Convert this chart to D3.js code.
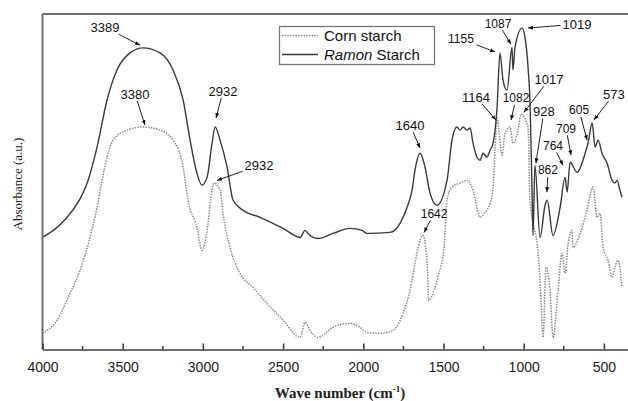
<!DOCTYPE html>
<html>
<head>
<meta charset="utf-8">
<script src="https://cdn.jsdelivr.net/npm/d3@7"></script>
<style>
  body { margin: 0; background: #fff; }
  svg { display: block; }
</style>
</head>
<body>
<script>
// FTIR spectra, wave number (cm-1) vs absorbance (a.u., arbitrary 0-100)
const ramonStarch = [
  [4000, 33.4], [3847, 39.4], [3748, 46.6], [3716, 50.4], [3660, 60.3], [3598, 74.3],
  [3536, 83.3], [3454, 88.4], [3373, 89.9], [3267, 88.4], [3186, 83.3], [3123, 74.3],
  [3080, 62.4], [3037, 52.5], [3006, 49.0], [2974, 51.3], [2943, 61.5], [2924, 66.3],
  [2893, 62.4], [2849, 54.3], [2812, 44.5], [2750, 41.5], [2644, 39.4], [2500, 36.1],
  [2394, 33.4], [2363, 35.5], [2345, 34.6], [2313, 33.4], [2282, 33.1], [2189, 34.6],
  [2083, 36.1], [2008, 35.5], [1977, 34.6], [1834, 34.9], [1771, 37.6], [1727, 42.4],
  [1696, 47.5], [1678, 53.4], [1646, 58.5], [1615, 54.3], [1584, 46.6], [1541, 43.0],
  [1478, 50.4], [1447, 62.4], [1416, 66.3], [1397, 65.4], [1378, 66.3], [1353, 65.4],
  [1334, 66.0], [1316, 61.5], [1291, 57.3], [1272, 56.4], [1254, 58.5], [1229, 57.3],
  [1210, 59.4], [1191, 61.5], [1166, 72.2], [1148, 88.4], [1129, 80.3], [1104, 77.3],
  [1073, 90.1], [1067, 83.3], [1054, 90.1], [1010, 95.8], [992, 93.1], [973, 84.2],
  [961, 74.3], [948, 47.5], [942, 34.0], [930, 54.9], [898, 33.4], [867, 43.0],
  [854, 44.5], [817, 34.0], [773, 42.4], [742, 51.3], [729, 46.9], [711, 55.8],
  [667, 52.8], [617, 58.5], [599, 61.5], [573, 67.5], [555, 60.3], [536, 62.4],
  [512, 58.5], [480, 55.5], [449, 50.4], [431, 49.6], [418, 50.4], [400, 47.5], [387, 45.4]
]

const cornStarch = [
  [4000, 4.8], [3910, 8.7], [3829, 16.7], [3766, 23.6], [3704, 33.4], [3660, 42.4],
  [3629, 50.4], [3598, 57.3], [3560, 62.4], [3473, 65.4], [3373, 66.3], [3267, 65.4],
  [3186, 62.4], [3123, 54.3], [3093, 44.5], [3037, 36.4], [3006, 29.6], [2974, 35.5],
  [2943, 47.5], [2931, 49.6], [2893, 47.5], [2875, 40.6], [2831, 30.4], [2769, 22.7],
  [2688, 18.5], [2600, 13.7], [2500, 8.7], [2394, 3.6], [2363, 8.1], [2332, 5.7],
  [2282, 3.6], [2189, 6.6], [2083, 7.8], [2021, 6.6], [1977, 5.1], [1896, 4.8],
  [1815, 5.7], [1753, 10.7], [1709, 17.6], [1678, 25.7], [1646, 32.5], [1628, 34.0],
  [1603, 26.6], [1591, 14.6], [1560, 17.6], [1528, 22.7], [1497, 30.4], [1478, 44.5],
  [1453, 48.1], [1397, 49.6], [1353, 50.4], [1316, 47.5], [1272, 39.4], [1241, 40.9],
  [1210, 43.6], [1191, 48.4], [1179, 59.4], [1166, 69.0], [1135, 57.9], [1116, 64.5],
  [1085, 66.3], [1067, 61.5], [1035, 65.4], [1017, 70.1], [973, 66.3], [961, 44.5],
  [942, 37.9], [917, 31.6], [898, 20.6], [879, 3.6], [861, 24.5], [836, 17.6],
  [817, 3.6], [786, 17.6], [761, 28.7], [742, 22.7], [723, 31.6], [699, 35.5],
  [692, 30.4], [649, 34.6], [605, 41.5], [568, 48.4], [543, 39.4], [524, 40.6],
  [505, 30.4], [474, 26.6], [449, 21.5], [431, 24.5], [412, 26.6], [387, 18.5]
]

const seriesNames = ["Corn starch", "Ramon Starch"]
const xTicks = [4000, 3500, 3000, 2500, 2000, 1500, 1000, 500]
const xMinorTicks = [3750, 3250, 2750, 2250, 1750, 1250, 750]

// peak labels: text, arrow tip (wave number, absorbance)
const peakLabels = ["3389", "3380", "2932", "2932", "1640", "1642", "1155", "1087", "1019",
  "1017", "1164", "1082", "928", "605", "573", "709", "764", "862"]
const peakTips = [
  [3392, 90.7], [3361, 66.9], [2918, 69.0], [2912, 50.4], [1646, 60.0], [1621, 34.9],
  [1179, 88.7], [1079, 91.0], [973, 95.8], [998, 70.7], [1173, 68.4], [1079, 68.4],
  [924, 55.5], [605, 62.4], [562, 68.4], [705, 57.9], [755, 54.9], [855, 46.9]
]
// label offsets from tip in pixels, and font size
const labelOffsets = [
  [-35, -18, 13], [-10, -31, 13], [7, -27, 13], [42, -15, 13], [-10, -23, 13], [10, -19, 12],
  [-34, -13, 12], [-13, -21, 12], [49, -4, 13], [25, -33, 13], [-20, -23, 13], [5, -22, 12],
  [8, -52, 13], [-8, -30, 12], [20, -26, 13], [-5, -27, 12], [-10, -20, 12], [1, -22, 12]
]

const W = 628, H = 401
const plotLeft = 42.5, plotTop = 14, plotBottom = 349.5

const svg = d3.select("body").append("svg")
  .attr("width", W)
  .attr("height", H)

const x = d3.scaleLinear().domain([4000, 350]).range([plotLeft, plotLeft + 3650 * 0.1604])
const y = d3.scaleLinear().domain([0, 100]).range([plotBottom, plotTop])

svg.append("defs").append("marker")
  .attr("id", "arrow")
  .attr("viewBox", "0 0 10 10")
  .attr("refX", 10).attr("refY", 5)
  .attr("markerWidth", 5).attr("markerHeight", 5)
  .attr("orient", "auto")
  .append("path")
    .attr("d", "M0,1 L10,5 L0,9 Z")
    .attr("fill", "#111")

const line = d3.line()
  .x(d => x(d[0]))
  .y(d => y(d[1]))
  .curve(d3.curveMonotoneX)

svg.append("path")
  .datum(cornStarch)
  .attr("d", line)
  .attr("fill", "none")
  .attr("stroke", "#8a8a8a")
  .attr("stroke-width", 1.5)
  .attr("stroke-dasharray", "1.5,1.2")

svg.append("path")
  .datum(ramonStarch)
  .attr("d", line)
  .attr("fill", "none")
  .attr("stroke", "#3a3a3a")
  .attr("stroke-width", 1.4)

// frame
const frameColor = "#6e6e6e"
svg.append("line")
  .attr("x1", plotLeft).attr("x2", W).attr("y1", plotTop).attr("y2", plotTop)
  .attr("stroke", frameColor).attr("stroke-width", 2.2)
svg.append("line")
  .attr("x1", plotLeft).attr("x2", plotLeft).attr("y1", plotTop).attr("y2", plotBottom)
  .attr("stroke", frameColor).attr("stroke-width", 2)

// x axis
const xAxis = svg.append("g")
  .attr("transform", `translate(0,${plotBottom})`)
  .call(d3.axisBottom(x).tickValues(xTicks).tickFormat(d3.format("d"))
    .tickSizeInner(-6).tickSizeOuter(0).tickPadding(13))
xAxis.select(".domain").attr("stroke", frameColor).attr("stroke-width", 2)
xAxis.selectAll(".tick line").attr("stroke", "#333").attr("stroke-width", 1.5)
xAxis.selectAll(".tick text")
  .attr("font-family", "Liberation Sans, Arial, sans-serif")
  .attr("font-size", 14)
  .attr("fill", "#222")

svg.append("g")
  .attr("transform", `translate(0,${plotBottom})`)
  .selectAll("line")
  .data(xMinorTicks)
  .enter()
    .append("line")
    .attr("x1", d => x(d)).attr("x2", d => x(d))
    .attr("y1", 0).attr("y2", -3.5)
    .attr("stroke", "#333").attr("stroke-width", 1.5)

// axis titles
const xTitle = svg.append("text")
  .attr("x", 340).attr("y", 398)
  .attr("text-anchor", "middle")
  .attr("font-family", "Liberation Serif, Times New Roman, serif")
  .attr("font-size", 15)
  .attr("font-weight", "bold")
  .attr("fill", "#222")
xTitle.append("tspan").text("Wave number (cm")
xTitle.append("tspan").attr("dy", -6).attr("font-size", 9).text("-1")
xTitle.append("tspan").attr("dy", 6).text(")")

svg.append("text")
  .attr("transform", "translate(22,184) rotate(-90)")
  .attr("text-anchor", "middle")
  .attr("font-family", "Liberation Serif, Times New Roman, serif")
  .attr("font-size", 13)
  .attr("fill", "#222")
  .text("Absorbance (a.u.)")

// legend
const legend = svg.append("g")
legend.append("rect")
  .attr("x", 279.5).attr("y", 26.5).attr("width", 155).attr("height", 38)
  .attr("fill", "#fff").attr("stroke", "#777").attr("stroke-width", 1.3)
legend.append("line")
  .attr("x1", 282).attr("x2", 318).attr("y1", 35.5).attr("y2", 35.5)
  .attr("stroke", "#8a8a8a").attr("stroke-width", 1.3).attr("stroke-dasharray", "1.5,1.2")
legend.append("line")
  .attr("x1", 282).attr("x2", 318).attr("y1", 54.5).attr("y2", 54.5)
  .attr("stroke", "#3a3a3a").attr("stroke-width", 1.3)
legend.append("text")
  .attr("x", 324).attr("y", 40.5)
  .attr("font-family", "Liberation Sans, Arial, sans-serif")
  .attr("font-size", 15).attr("fill", "#111")
  .text(seriesNames[0])
const lg2 = legend.append("text")
  .attr("x", 324).attr("y", 59.5)
  .attr("font-family", "Liberation Sans, Arial, sans-serif")
  .attr("font-size", 15).attr("fill", "#111")
lg2.append("tspan").attr("font-style", "italic").text(seriesNames[1].split(" ")[0])
lg2.append("tspan").text(" " + seriesNames[1].split(" ")[1])

// peak annotations
const peaks = peakLabels.map((t, i) => ({
  text: t,
  tx: x(peakTips[i][0]),
  ty: y(peakTips[i][1]),
  dx: labelOffsets[i][0],
  dy: labelOffsets[i][1],
  size: labelOffsets[i][2]
}))

const ann = svg.append("g").attr("class", "annotations")
peaks.forEach(p => {
  const cx = p.tx + p.dx, cy = p.ty + p.dy
  const hw = p.text.length * p.size * 0.28 + 2, hh = 7
  const t = Math.min(hw / Math.max(Math.abs(p.dx), 0.01), hh / Math.max(Math.abs(p.dy), 0.01))
  ann.append("line")
    .attr("x1", cx - t * p.dx).attr("y1", cy - t * p.dy)
    .attr("x2", p.tx).attr("y2", p.ty)
    .attr("stroke", "#222").attr("stroke-width", 1)
    .attr("marker-end", "url(#arrow)")
  ann.append("text")
    .attr("x", cx).attr("y", cy)
    .attr("dy", "0.36em")
    .attr("text-anchor", "middle")
    .attr("font-family", "Liberation Sans, Arial, sans-serif")
    .attr("font-size", p.size)
    .attr("fill", "#111")
    .text(p.text)
})
</script>
</body>
</html>
